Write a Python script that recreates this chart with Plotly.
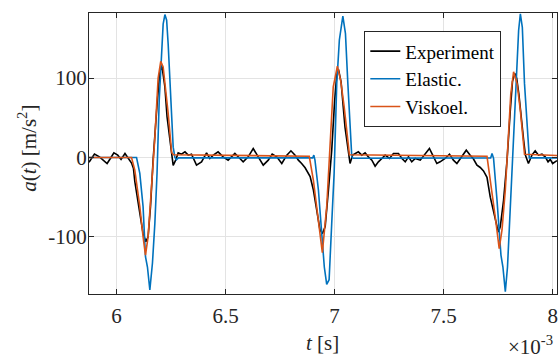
import plotly.graph_objects as go

# time in ms (axis shows x10^-3 s)
black_t = [5.874, 5.899, 5.922, 5.942, 5.957, 5.972, 5.988, 6.006, 6.021, 6.039,
           6.060, 6.069, 6.078, 6.084, 6.107, 6.122, 6.135, 6.145, 6.156, 6.168,
           6.187, 6.199, 6.208, 6.222, 6.232, 6.245, 6.253, 6.260, 6.272, 6.283,
           6.298, 6.314, 6.329, 6.344, 6.367, 6.390, 6.413, 6.428, 6.444, 6.466,
           6.489, 6.512, 6.543, 6.566, 6.581, 6.604, 6.627, 6.650, 6.673, 6.696,
           6.714, 6.735, 6.758, 6.781, 6.800, 6.819, 6.834, 6.849, 6.865, 6.888,
           6.903, 6.918, 6.933, 6.944, 6.957, 6.972, 6.987, 7.000, 7.010, 7.018,
           7.030, 7.048, 7.063, 7.071, 7.083, 7.094, 7.109, 7.125, 7.140, 7.155,
           7.171, 7.186, 7.201, 7.217, 7.232, 7.252, 7.270, 7.293, 7.309, 7.324,
           7.339, 7.354, 7.370, 7.393, 7.416, 7.435, 7.454, 7.469, 7.484, 7.507,
           7.527, 7.545, 7.561, 7.584, 7.604, 7.622, 7.637, 7.653, 7.668, 7.683,
           7.699, 7.714, 7.729, 7.745, 7.752, 7.760, 7.775, 7.791, 7.806, 7.816,
           7.826, 7.835, 7.845, 7.852, 7.867, 7.875, 7.889, 7.905, 7.920, 7.935,
           7.951, 7.966, 7.979, 7.989, 8.000, 8.020]
black_v = [-6, 4.2, 0.8, -3.4, -7.6, -1.3, 5.8, 2.9, -2.5, 5.0,
           -3.4, -7, -14, -30, -70, -96, -106, -100, -62, -3,
           70, 108, 116, 89, 51, 18, 5, -10, -3, 5.8,
           4.2, 7.1, 2.9, 4.2, -9.7, -5.5, 5.8, -1.3, 2.9, 7.1,
           0.8, -3.4, 5.0, -1.3, -5.5, 0.8, 11.3, 0.8, -9.7, -3.4,
           4.2, 0.8, -7.6, 2.9, 8.4, 2.9, -3.4, -7.6, -13, -24,
           -41, -66, -91, -96, -87, -41, 9, 70, 104, 111,
           95, 38, 7, -7.6, 3, 5, 7.1, 2.9, 5.8, 0.8,
           -3.4, -11, -5.5, -1.3, 2.9, -1.3, 5, 5, -1.3, -5.5,
           0.8, -5.5, -1.3, -3.4, 5, 11.3, 0.8, -7.6, -5.5, -1.3,
           4.2, -3.4, -7.6, 0.8, 9.2, 2.9, -2, -9.7, -12.6, -17,
           -25, -50, -70, -87, -94, -87, -54, -3.4, 60, 96,
           106, 100, 80, 59, 22, 3, -7.6, 3, 8.4, 2.9,
           4.2, 0.8, -5.5, -2.5, -7.6, -4]

blue_t = [5.874, 6.092, 6.107, 6.122, 6.133, 6.142, 6.153, 6.165, 6.176, 6.186,
          6.196, 6.207, 6.214, 6.222, 6.230, 6.237, 6.248, 6.260, 6.268, 6.275,
          6.284, 6.900, 6.905, 6.910, 6.926, 6.941, 6.953, 6.964, 6.975, 6.987,
          6.998, 7.010, 7.022, 7.038, 7.050, 7.061, 7.071, 7.079, 7.085, 7.716,
          7.722, 7.729, 7.745, 7.763, 7.772, 7.783, 7.793, 7.806, 7.818, 7.833,
          7.844, 7.852, 7.861, 7.871, 7.887, 7.893, 8.020]
blue_v = [0, 0, -20, -62, -125, -138, -167, -133, -83, -20,
          72, 143, 168, 180, 173, 143, 72, 13, 0, -3,
          -0.5, -0.5, 3, -3, -41, -91, -138, -160, -154, -83,
          -20, 93, 148, 178, 156, 93, 30, 1, -1, -0.5,
          5, -1, -54, -123, -138, -169, -138, -62, 1, 93,
          160, 181, 164, 93, 18, -0.5, -0.5]

orange_t = [5.874, 6.069, 6.084, 6.107, 6.122, 6.133, 6.145, 6.161, 6.176, 6.191,
            6.203, 6.214, 6.226, 6.237, 6.248, 6.253, 6.262, 6.884, 6.903, 6.918,
            6.933, 6.944, 6.964, 6.979, 6.994, 7.013, 7.028, 7.044, 7.056, 7.063,
            7.068, 7.699, 7.722, 7.737, 7.755, 7.768, 7.783, 7.797, 7.808, 7.821,
            7.837, 7.852, 7.867, 7.871, 8.020]
orange_v = [0, 0, -16, -62, -100, -123, -100, -41, 25, 100,
            121, 114, 85, 56, 22, 6, 3.5, 1.5, -29, -62,
            -100, -120, -62, 9, 89, 115, 97, 64, 30, 11,
            3.5, 1.5, -41, -75, -115, -91, -41, 25, 80, 108,
            93, 59, 22, 4, 2.5]

series_names = ["Experiment", "Elastic.", "Viskoel."]
series_colors = ["#000000", "#0072BD", "#D95319"]

x_tickvals = [6, 6.5, 7, 7.5, 8]
x_ticktext = ["6", "6.5", "7", "7.5", "8"]
y_tickvals = [-100, 0, 100]
y_ticktext = ["-100", "0", "100"]

FONT = "'Liberation Serif', 'Times New Roman', 'DejaVu Serif', serif"
AX = "#262626"

fig = go.Figure()
for t, v, name, col in zip([black_t, blue_t, orange_t], [black_v, blue_v, orange_v],
                           series_names, series_colors):
    fig.add_trace(go.Scatter(x=t, y=v, mode="lines", name=name,
                             line=dict(color=col, width=1.6)))

axis_common = dict(showline=True, linecolor=AX, linewidth=1, mirror="ticks",
                   ticks="inside", ticklen=5, tickcolor=AX, showgrid=True,
                   gridcolor="#e3e3e3", gridwidth=1, zeroline=False,
                   tickfont=dict(family=FONT, size=21, color=AX))

fig.update_xaxes(range=[5.874, 8.02], tickvals=x_tickvals, ticktext=x_ticktext,
                 ticklabelstandoff=3, **axis_common)
fig.update_yaxes(range=[-172, 182], tickvals=y_tickvals, ticktext=y_ticktext,
                 ticklabelstandoff=-3, **axis_common)

fig.update_layout(
    width=558, height=359,
    margin=dict(l=89, r=1, t=13, b=65),
    plot_bgcolor="white", paper_bgcolor="white",
    font=dict(family=FONT, size=21, color="#000000"),
    legend=dict(x=0.881, y=0.935, xanchor="right", yanchor="top",
                bordercolor=AX, borderwidth=1, bgcolor="white",
                font=dict(family=FONT, size=19, color="#000000"),
                itemwidth=30, tracegroupgap=0),
    annotations=[
        dict(text="<i>a</i>(<i>t</i>) [m/s<sup>2</sup>]", xref="paper", yref="paper",
             x=-0.1305, y=0.52, xanchor="center", yanchor="middle", textangle=-90,
             showarrow=False, font=dict(family=FONT, size=21, color=AX)),
        dict(text="<i>t</i> [s]", xref="paper", yref="paper",
             x=0.498, y=-0.174, xanchor="center", yanchor="middle",
             showarrow=False, font=dict(family=FONT, size=21, color=AX)),
        dict(text="×10<sup>-3</sup>", xref="paper", yref="paper",
             x=0.996, y=-0.185, xanchor="right", yanchor="middle",
             showarrow=False, font=dict(family=FONT, size=21, color=AX)),
    ],
)

fig.write_html("out.html", config={"displayModeBar": False},
               post_script="document.body.style.margin='0px';document.body.style.overflow='hidden';")
